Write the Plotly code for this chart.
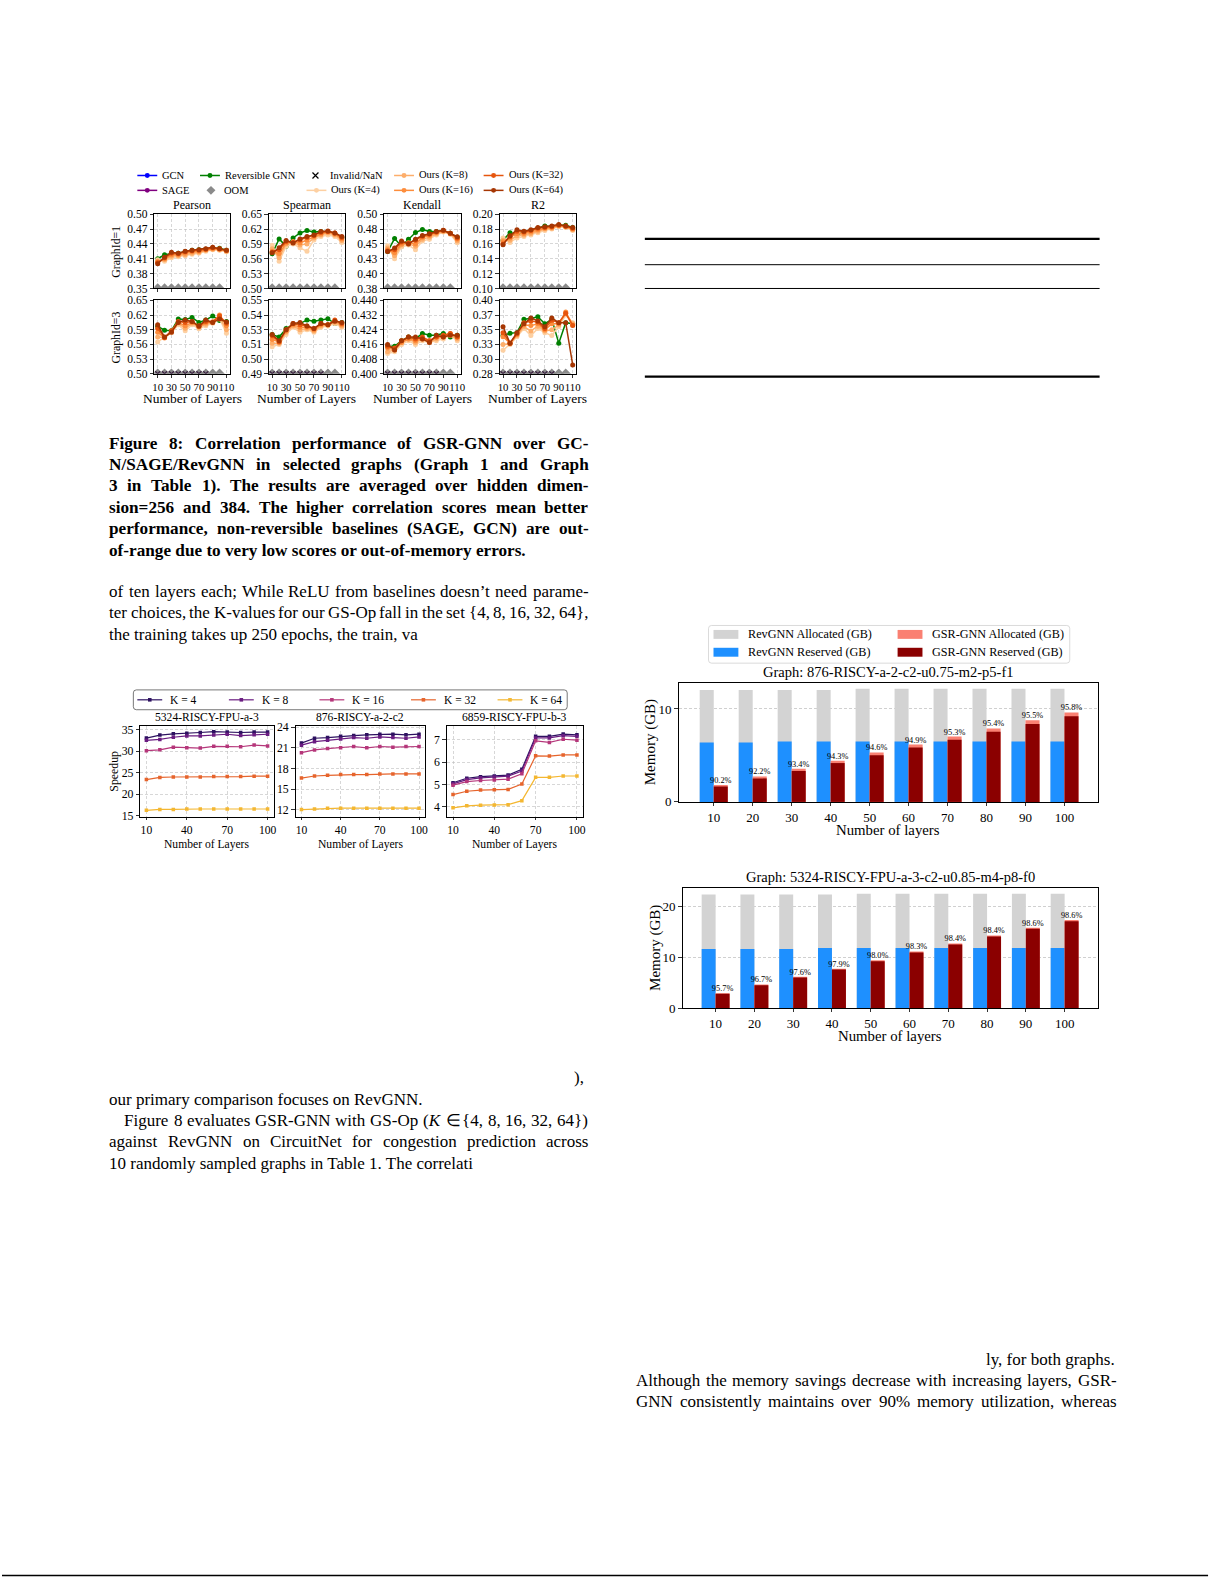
import re
import plotly.graph_objects as go

W, H = 1225, 1585
SERIF = "Liberation Serif"

# ---------------- Figure 8 data (correlation) ----------------
corr_layers = [10, 20, 30, 40, 50, 60, 70, 80, 90, 100, 110]
oom_layers = [10, 20, 30, 40, 50, 60, 70, 80, 90, 100]
nan_layers = [10, 20, 30, 40, 50, 60, 70, 80]
metric_names = ["Pearson", "Spearman", "Kendall", "R2"]
graph_names = ["GraphId=1", "GraphId=3"]

g1_pearson_rev = [0.410, 0.418, 0.420, 0.421, 0.424, 0.427, 0.428, 0.429, 0.431, 0.431, 0.427]
g1_pearson_k4 = [0.408, 0.405, 0.412, 0.414, 0.416, 0.419, 0.421, 0.425, 0.428, 0.427, 0.424]
g1_pearson_k8 = [0.405, 0.408, 0.415, 0.416, 0.418, 0.421, 0.423, 0.427, 0.429, 0.428, 0.425]
g1_pearson_k16 = [0.404, 0.410, 0.418, 0.418, 0.421, 0.424, 0.425, 0.428, 0.430, 0.429, 0.426]
g1_pearson_k32 = [0.402, 0.412, 0.421, 0.420, 0.424, 0.426, 0.427, 0.429, 0.432, 0.430, 0.427]
g1_pearson_k64 = [0.400, 0.413, 0.423, 0.421, 0.425, 0.427, 0.428, 0.430, 0.433, 0.430, 0.427]

g1_spearman_rev = [0.570, 0.600, 0.585, 0.602, 0.612, 0.617, 0.614, 0.615, 0.613, 0.610, 0.603]
g1_spearman_k4 = [0.587, 0.555, 0.585, 0.590, 0.582, 0.575, 0.598, 0.605, 0.608, 0.605, 0.593]
g1_spearman_k8 = [0.580, 0.562, 0.590, 0.592, 0.588, 0.590, 0.602, 0.608, 0.612, 0.608, 0.597]
g1_spearman_k16 = [0.575, 0.570, 0.592, 0.595, 0.592, 0.598, 0.605, 0.610, 0.614, 0.610, 0.600]
g1_spearman_k32 = [0.573, 0.578, 0.595, 0.593, 0.598, 0.603, 0.607, 0.613, 0.615, 0.612, 0.603]
g1_spearman_k64 = [0.572, 0.582, 0.597, 0.592, 0.600, 0.605, 0.608, 0.615, 0.616, 0.612, 0.605]

g1_kendall_rev = [0.437, 0.459, 0.446, 0.458, 0.469, 0.474, 0.471, 0.471, 0.472, 0.468, 0.461]
g1_kendall_k4 = [0.447, 0.425, 0.445, 0.448, 0.440, 0.455, 0.458, 0.465, 0.470, 0.466, 0.452]
g1_kendall_k8 = [0.443, 0.430, 0.448, 0.450, 0.446, 0.458, 0.461, 0.467, 0.471, 0.467, 0.455]
g1_kendall_k16 = [0.440, 0.435, 0.450, 0.452, 0.450, 0.461, 0.464, 0.469, 0.472, 0.468, 0.458]
g1_kendall_k32 = [0.438, 0.440, 0.453, 0.451, 0.456, 0.463, 0.466, 0.470, 0.473, 0.468, 0.460]
g1_kendall_k64 = [0.437, 0.443, 0.455, 0.450, 0.458, 0.464, 0.467, 0.471, 0.473, 0.468, 0.462]

g1_r2_rev = [0.165, 0.175, 0.172, 0.176, 0.178, 0.181, 0.184, 0.183, 0.185, 0.185, 0.182]
g1_r2_k4 = [0.168, 0.162, 0.168, 0.170, 0.172, 0.175, 0.178, 0.180, 0.183, 0.182, 0.178]
g1_r2_k8 = [0.165, 0.165, 0.171, 0.172, 0.174, 0.177, 0.180, 0.181, 0.184, 0.183, 0.179]
g1_r2_k16 = [0.163, 0.168, 0.174, 0.174, 0.176, 0.179, 0.181, 0.182, 0.185, 0.183, 0.180]
g1_r2_k32 = [0.160, 0.170, 0.177, 0.176, 0.178, 0.181, 0.182, 0.183, 0.185, 0.184, 0.181]
g1_r2_k64 = [0.159, 0.171, 0.179, 0.177, 0.179, 0.182, 0.183, 0.184, 0.186, 0.184, 0.182]

g3_pearson_rev = [0.597, 0.589, 0.588, 0.612, 0.611, 0.615, 0.605, 0.610, 0.618, 0.609, 0.607]
g3_pearson_k4 = [0.565, 0.575, 0.584, 0.600, 0.588, 0.600, 0.592, 0.598, 0.603, 0.612, 0.583]
g3_pearson_k8 = [0.575, 0.574, 0.586, 0.603, 0.593, 0.603, 0.595, 0.601, 0.605, 0.615, 0.590]
g3_pearson_k16 = [0.585, 0.573, 0.587, 0.605, 0.598, 0.605, 0.596, 0.604, 0.606, 0.620, 0.598]
g3_pearson_k32 = [0.593, 0.574, 0.588, 0.607, 0.605, 0.607, 0.598, 0.607, 0.606, 0.618, 0.603]
g3_pearson_k64 = [0.600, 0.575, 0.585, 0.605, 0.610, 0.607, 0.597, 0.610, 0.605, 0.612, 0.606]

g3_spearman_rev = [0.522, 0.520, 0.527, 0.530, 0.531, 0.534, 0.533, 0.534, 0.535, 0.531, 0.532]
g3_spearman_k4 = [0.512, 0.514, 0.522, 0.528, 0.524, 0.526, 0.524, 0.528, 0.529, 0.531, 0.528]
g3_spearman_k8 = [0.515, 0.515, 0.524, 0.529, 0.526, 0.527, 0.525, 0.529, 0.530, 0.532, 0.529]
g3_spearman_k16 = [0.518, 0.516, 0.525, 0.530, 0.528, 0.528, 0.526, 0.530, 0.530, 0.533, 0.530]
g3_spearman_k32 = [0.521, 0.516, 0.526, 0.531, 0.530, 0.529, 0.527, 0.531, 0.530, 0.534, 0.531]
g3_spearman_k64 = [0.522, 0.517, 0.526, 0.531, 0.532, 0.529, 0.527, 0.531, 0.530, 0.533, 0.532]

g3_kendall_rev = [0.415, 0.415, 0.418, 0.420, 0.419, 0.422, 0.421, 0.421, 0.422, 0.420, 0.421]
g3_kendall_k4 = [0.411, 0.412, 0.416, 0.418, 0.416, 0.418, 0.417, 0.418, 0.419, 0.421, 0.418]
g3_kendall_k8 = [0.412, 0.413, 0.417, 0.419, 0.417, 0.419, 0.417, 0.419, 0.420, 0.421, 0.419]
g3_kendall_k16 = [0.414, 0.413, 0.417, 0.419, 0.418, 0.419, 0.418, 0.420, 0.420, 0.422, 0.420]
g3_kendall_k32 = [0.415, 0.414, 0.418, 0.420, 0.419, 0.420, 0.418, 0.420, 0.421, 0.422, 0.420]
g3_kendall_k64 = [0.416, 0.413, 0.418, 0.420, 0.420, 0.419, 0.417, 0.421, 0.420, 0.421, 0.421]

g3_r2_rev = [0.340, 0.344, 0.345, 0.368, 0.369, 0.372, 0.360, 0.368, 0.327, 0.362, 0.360]
g3_r2_k4 = [0.315, 0.325, 0.338, 0.352, 0.340, 0.352, 0.345, 0.340, 0.355, 0.375, 0.362]
g3_r2_k8 = [0.325, 0.326, 0.340, 0.355, 0.348, 0.356, 0.348, 0.350, 0.358, 0.378, 0.360]
g3_r2_k16 = [0.338, 0.327, 0.342, 0.358, 0.357, 0.360, 0.350, 0.360, 0.360, 0.380, 0.358]
g3_r2_k32 = [0.345, 0.327, 0.343, 0.362, 0.365, 0.363, 0.352, 0.366, 0.362, 0.378, 0.357]
g3_r2_k64 = [0.355, 0.327, 0.345, 0.360, 0.370, 0.365, 0.355, 0.370, 0.362, 0.362, 0.290]

# y-axis ticks of the correlation panels
g1_pearson_ticks = [0.35, 0.38, 0.41, 0.44, 0.47, 0.50]
g1_pearson_labels = ["0.35", "0.38", "0.41", "0.44", "0.47", "0.50"]
g1_spearman_ticks = [0.50, 0.53, 0.56, 0.59, 0.62, 0.65]
g1_spearman_labels = ["0.50", "0.53", "0.56", "0.59", "0.62", "0.65"]
g1_kendall_ticks = [0.375, 0.40, 0.425, 0.45, 0.475, 0.50]
g1_kendall_labels = ["0.38", "0.40", "0.43", "0.45", "0.48", "0.50"]
g1_r2_ticks = [0.10, 0.12, 0.14, 0.16, 0.18, 0.20]
g1_r2_labels = ["0.10", "0.12", "0.14", "0.16", "0.18", "0.20"]
g3_pearson_ticks = [0.50, 0.53, 0.56, 0.59, 0.62, 0.65]
g3_pearson_labels = ["0.50", "0.53", "0.56", "0.59", "0.62", "0.65"]
g3_spearman_ticks = [0.49, 0.502, 0.514, 0.526, 0.538, 0.55]
g3_spearman_labels = ["0.49", "0.50", "0.51", "0.53", "0.54", "0.55"]
g3_kendall_ticks = [0.400, 0.408, 0.416, 0.424, 0.432, 0.440]
g3_kendall_labels = ["0.400", "0.408", "0.416", "0.424", "0.432", "0.440"]
g3_r2_ticks = [0.275, 0.30, 0.325, 0.35, 0.375, 0.40]
g3_r2_labels = ["0.28", "0.30", "0.33", "0.35", "0.37", "0.40"]
corr_xticks = [10, 30, 50, 70, 90, 110]

# ---------------- Speedup data ----------------
speed_layers = [10, 20, 30, 40, 50, 60, 70, 80, 90, 100]
speed_titles = ["5324-RISCY-FPU-a-3", "876-RISCY-a-2-c2", "6859-RISCY-FPU-b-3"]
k_labels = ["K = 4", "K = 8", "K = 16", "K = 32", "K = 64"]

s5324_k4 = [33.0, 33.7, 34.0, 34.1, 34.3, 34.5, 34.4, 34.3, 34.4, 34.4]
s5324_k8 = [32.5, 32.7, 33.2, 33.5, 33.5, 33.7, 33.9, 33.6, 33.8, 33.9]
s5324_k16 = [30.1, 30.3, 30.9, 30.8, 30.7, 31.1, 31.1, 31.0, 31.4, 31.2]
s5324_k32 = [23.4, 23.9, 24.0, 24.0, 24.0, 24.1, 24.1, 24.1, 24.2, 24.2]
s5324_k64 = [16.3, 16.5, 16.5, 16.6, 16.6, 16.6, 16.6, 16.6, 16.6, 16.6]

s876_k4 = [21.7, 22.4, 22.5, 22.7, 22.8, 22.9, 23.0, 23.0, 22.9, 23.0]
s876_k8 = [21.4, 21.9, 22.1, 22.3, 22.5, 22.4, 22.6, 22.5, 22.4, 22.6]
s876_k16 = [20.3, 20.7, 20.9, 21.0, 21.2, 21.0, 21.2, 21.1, 21.2, 21.2]
s876_k32 = [16.6, 16.9, 17.0, 17.1, 17.1, 17.1, 17.2, 17.2, 17.2, 17.2]
s876_k64 = [12.0, 12.1, 12.2, 12.2, 12.2, 12.2, 12.2, 12.2, 12.2, 12.2]

s6859_k4 = [5.08, 5.28, 5.35, 5.38, 5.42, 5.68, 7.15, 7.15, 7.25, 7.22]
s6859_k8 = [5.03, 5.22, 5.30, 5.33, 5.37, 5.60, 7.08, 7.08, 7.18, 7.15]
s6859_k16 = [4.97, 5.13, 5.18, 5.20, 5.24, 5.48, 6.95, 6.88, 7.02, 6.98]
s6859_k32 = [4.55, 4.70, 4.75, 4.77, 4.78, 5.02, 6.28, 6.27, 6.32, 6.32]
s6859_k64 = [3.96, 4.05, 4.08, 4.09, 4.10, 4.28, 5.32, 5.32, 5.38, 5.38]

s5324_ticks = [15, 20, 25, 30, 35]
s876_ticks = [12, 15, 18, 21, 24]
s6859_ticks = [4, 5, 6, 7]
speed_xticks = [10, 40, 70, 100]

# ---------------- Memory data ----------------
mem_layers = [10, 20, 30, 40, 50, 60, 70, 80, 90, 100]
mem1_title = "Graph: 876-RISCY-a-2-c2-u0.75-m2-p5-f1"
mem1_rev_alloc = [12.05, 12.05, 12.05, 12.05, 12.18, 12.18, 12.18, 12.18, 12.18, 12.18]
mem1_rev_reserved = [6.4, 6.4, 6.5, 6.5, 6.5, 6.5, 6.5, 6.5, 6.5, 6.5]
mem1_gsr_reserved = [1.65, 2.53, 3.33, 4.18, 5.02, 5.86, 6.70, 7.54, 8.39, 9.23]
mem1_gsr_alloc = [1.83, 2.74, 3.57, 4.43, 5.31, 6.17, 7.03, 7.90, 8.78, 9.63]
mem1_pct = ["90.2%", "92.2%", "93.4%", "94.3%", "94.6%", "94.9%", "95.3%", "95.4%", "95.5%", "95.8%"]

mem2_title = "Graph: 5324-RISCY-FPU-a-3-c2-u0.85-m4-p8-f0"
mem2_rev_alloc = [22.35, 22.35, 22.35, 22.35, 22.5, 22.5, 22.5, 22.5, 22.5, 22.5]
mem2_rev_reserved = [11.6, 11.6, 11.6, 11.8, 11.8, 11.8, 11.8, 11.8, 11.8, 11.8]
mem2_gsr_reserved = [2.8, 4.5, 6.0, 7.6, 9.2, 10.95, 12.5, 14.07, 15.6, 17.1]
mem2_gsr_alloc = [2.93, 4.65, 6.15, 7.76, 9.39, 11.14, 12.70, 14.30, 15.82, 17.34]
mem2_pct = ["95.7%", "96.7%", "97.6%", "97.9%", "98.0%", "98.3%", "98.4%", "98.4%", "98.6%", "98.6%"]

# ---------------- Styles ----------------
C_GCN, C_SAGE, C_REV = "#0000ff", "#800080", "#008000"
C_OURS = ["#fdd0a2", "#fdae6b", "#fd8d3c", "#e6550d", "#a63603"]
C_SPEED = ["#2d1160", "#6a1c81", "#b5367a", "#e6642c", "#f4b731"]
C_GRAY, C_BLUE, C_SALMON, C_DRED = "#d3d3d3", "#1e90ff", "#fa8072", "#8b0000"

# Times-compatible advance widths (per 1000 em) used to justify the page text
TR = dict(zip(" !%(),-./:;=?{}’", [250, 333, 833, 333, 333, 250, 333, 250, 278, 278, 278, 564, 444, 480, 480, 333]))
TR.update(dict(zip("0123456789", [500] * 10)))
TR.update(dict(zip("ABCDEFGHIJKLMNOPQRSTUVWXYZ",
                   [722, 667, 667, 722, 611, 556, 722, 722, 333, 389, 722, 611, 889, 722, 722, 556, 722, 667, 556, 611, 722, 722, 944, 722, 722, 611])))
TR.update(dict(zip("abcdefghijklmnopqrstuvwxyz",
                   [444, 500, 444, 500, 444, 333, 500, 500, 278, 278, 500, 278, 778, 500, 500, 500, 500, 333, 389, 278, 500, 500, 722, 500, 500, 444])))
TR["∈"] = 660
TB = dict(zip(" !%(),-./:;=?{}’", [250, 333, 1000, 333, 333, 250, 333, 250, 278, 333, 333, 570, 500, 394, 394, 333]))
TB.update(dict(zip("0123456789", [500] * 10)))
TB.update(dict(zip("ABCDEFGHIJKLMNOPQRSTUVWXYZ",
                   [722, 667, 722, 722, 667, 611, 778, 778, 389, 500, 778, 667, 944, 722, 778, 611, 778, 722, 556, 667, 722, 722, 1000, 722, 722, 667])))
TB.update(dict(zip("abcdefghijklmnopqrstuvwxyz",
                   [500, 556, 444, 556, 444, 333, 500, 556, 278, 333, 556, 278, 833, 556, 500, 556, 556, 444, 389, 333, 556, 500, 722, 500, 500, 444])))


def px(x):
    return x / W


def py(y):
    return 1 - y / H


def names(i):
    return ("x" if i == 1 else f"x{i}", "y" if i == 1 else f"y{i}",
            "xaxis" if i == 1 else f"xaxis{i}", "yaxis" if i == 1 else f"yaxis{i}")


fig = go.Figure()
layout = {}
shapes = []
annots = []


def text(x, y, s, size, xanchor="center", angle=0, bold=False, yanchor="middle"):
    annots.append(dict(x=px(x), y=py(y), xref="paper", yref="paper", text=s, showarrow=False,
                       xanchor=xanchor, yanchor=yanchor, textangle=angle, borderpad=0,
                       font=dict(family=SERIF, size=size, color="black",
                                 weight="bold" if bold else "normal")))


def text_width(s, size, bold):
    tbl = TB if bold else TR
    plain = re.sub(r"<[^>]+>", "", s)
    return sum(tbl.get(ch, 500) for ch in plain) * size / 1000.0


def para_line(x0, x1, y, s, size, bold=False, justify=True):
    words = s.split(" ")
    if not justify or len(words) < 2:
        text(x0, y, s, size, "left", bold=bold)
        return
    widths = [text_width(w, size, bold) for w in words]
    gap = (x1 - x0 - sum(widths)) / (len(words) - 1)
    x = x0
    for w, wd in zip(words, widths):
        text(x, y, w, size, "left", bold=bold)
        x += wd + gap


def seg(x0, x1, y, color, width):
    shapes.append(dict(type="line", xref="paper", yref="paper", x0=px(x0), x1=px(x1),
                       y0=py(y), y1=py(y), line=dict(color=color, width=width)))


def dot(cx, cy, r, color):
    shapes.append(dict(type="circle", xref="paper", yref="paper", x0=px(cx - r), x1=px(cx + r),
                       y0=py(cy + r), y1=py(cy - r), fillcolor=color, line=dict(width=0)))


def square(cx, cy, r, color):
    shapes.append(dict(type="rect", xref="paper", yref="paper", x0=px(cx - r), x1=px(cx + r),
                       y0=py(cy + r), y1=py(cy - r), fillcolor=color, line=dict(width=0)))


def diamond(cx, cy, r, color):
    p = (f"M{px(cx)},{py(cy - r)} L{px(cx + r)},{py(cy)} L{px(cx)},{py(cy + r)} "
         f"L{px(cx - r)},{py(cy)} Z")
    shapes.append(dict(type="path", xref="paper", yref="paper", path=p, fillcolor=color,
                       line=dict(width=0)))


def cross(cx, cy, r, color):
    p = (f"M{px(cx - r)},{py(cy - r)} L{px(cx + r)},{py(cy + r)} "
         f"M{px(cx - r)},{py(cy + r)} L{px(cx + r)},{py(cy - r)}")
    shapes.append(dict(type="path", xref="paper", yref="paper", path=p, line=dict(color=color, width=1.2)))


def rrect(x0, y0, x1, y1, r, color, width):
    P = lambda x, y: f"{px(x)},{py(y)}"
    p = (f"M{P(x0 + r, y0)} L{P(x1 - r, y0)} Q{P(x1, y0)} {P(x1, y0 + r)} L{P(x1, y1 - r)} "
         f"Q{P(x1, y1)} {P(x1 - r, y1)} L{P(x0 + r, y1)} Q{P(x0, y1)} {P(x0, y1 - r)} "
         f"L{P(x0, y0 + r)} Q{P(x0, y0)} {P(x0 + r, y0)} Z")
    shapes.append(dict(type="path", xref="paper", yref="paper", path=p, fillcolor="white",
                       line=dict(color=color, width=width), layer="below"))


def frame(size, ticklen=3.5):
    return dict(showline=True, linecolor="black", linewidth=1, mirror=True, ticks="outside",
                ticklen=ticklen, tickwidth=0.8, tickcolor="black", zeroline=False, tickangle=0,
                tickfont=dict(family=SERIF, size=size, color="black"))


GRID = dict(showgrid=True, gridcolor="#bdbdbd", gridwidth=0.6, griddash="3px,2px")

# ---------------- Figure 8 panels ----------------
corr_cols = [(153, 229), (268, 345), (384, 461), (500, 577)]
corr_rows = [(210, 285), (297, 371)]
panels = [
    [(g1_pearson_rev, [g1_pearson_k4, g1_pearson_k8, g1_pearson_k16, g1_pearson_k32, g1_pearson_k64], g1_pearson_ticks, g1_pearson_labels),
     (g1_spearman_rev, [g1_spearman_k4, g1_spearman_k8, g1_spearman_k16, g1_spearman_k32, g1_spearman_k64], g1_spearman_ticks, g1_spearman_labels),
     (g1_kendall_rev, [g1_kendall_k4, g1_kendall_k8, g1_kendall_k16, g1_kendall_k32, g1_kendall_k64], g1_kendall_ticks, g1_kendall_labels),
     (g1_r2_rev, [g1_r2_k4, g1_r2_k8, g1_r2_k16, g1_r2_k32, g1_r2_k64], g1_r2_ticks, g1_r2_labels)],
    [(g3_pearson_rev, [g3_pearson_k4, g3_pearson_k8, g3_pearson_k16, g3_pearson_k32, g3_pearson_k64], g3_pearson_ticks, g3_pearson_labels),
     (g3_spearman_rev, [g3_spearman_k4, g3_spearman_k8, g3_spearman_k16, g3_spearman_k32, g3_spearman_k64], g3_spearman_ticks, g3_spearman_labels),
     (g3_kendall_rev, [g3_kendall_k4, g3_kendall_k8, g3_kendall_k16, g3_kendall_k32, g3_kendall_k64], g3_kendall_ticks, g3_kendall_labels),
     (g3_r2_rev, [g3_r2_k4, g3_r2_k8, g3_r2_k16, g3_r2_k32, g3_r2_k64], g3_r2_ticks, g3_r2_labels)],
]

idx = 0
for r, (top, bot) in enumerate(corr_rows):
    for c, (left, right) in enumerate(corr_cols):
        idx += 1
        xa, ya, xk, yk = names(idx)
        rev, ours, ticks, labels = panels[r][c]
        ymin = ticks[0]
        layout[xk] = dict(domain=[px(left), px(right)], anchor=ya, range=[5, 115],
                          tickvals=corr_xticks, showticklabels=(r == 1), **frame(10.8, 3), **GRID)
        layout[yk] = dict(domain=[py(bot), py(top)], anchor=xa, range=[ticks[0], ticks[-1]],
                          tickvals=ticks, ticktext=labels, **frame(11.5), **GRID)
        fig.add_trace(go.Scatter(x=oom_layers, y=[ymin] * len(oom_layers), xaxis=xa, yaxis=ya,
                                 mode="markers", marker=dict(symbol="diamond", size=8, color="#8a8a8a"),
                                 showlegend=False, hoverinfo="skip"))
        if r == 1:
            fig.add_trace(go.Scatter(x=nan_layers, y=[ymin] * len(nan_layers), xaxis=xa, yaxis=ya,
                                     mode="markers", marker=dict(symbol="x-thin", size=5,
                                                                 line=dict(color="#3a2040", width=1.2)),
                                     showlegend=False, hoverinfo="skip"))
        fig.add_trace(go.Scatter(x=corr_layers, y=rev, xaxis=xa, yaxis=ya, mode="lines+markers",
                                 line=dict(color=C_REV, width=1.5), marker=dict(size=5, color=C_REV),
                                 showlegend=False))
        for k, ys in enumerate(ours):
            fig.add_trace(go.Scatter(x=corr_layers, y=ys, xaxis=xa, yaxis=ya, mode="lines+markers",
                                     line=dict(color=C_OURS[k], width=1.5),
                                     marker=dict(size=5, color=C_OURS[k]), showlegend=False))
        if r == 0:
            text((left + right) / 2, 201, metric_names[c], 12)
        else:
            text((left + right) / 2, 396, "Number of Layers", 13.5)
    text(115, (top + bot) / 2, graph_names[r], 11.8, angle=-90)


def leg_line(x0, y, color, label):
    seg(x0, x0 + 20, y, color, 1.5)
    dot(x0 + 10, y, 2.5, color)
    text(x0 + 24, y, label, 10.5, xanchor="left")


leg_line(136, 171, C_GCN, "GCN")
leg_line(199, 171, C_REV, "Reversible GNN")
cross(315, 171, 3, "black")
text(329, 171, "Invalid/NaN", 10.5, xanchor="left")
leg_line(394, 171, C_OURS[1], "Ours (K=8)")
leg_line(484, 171, C_OURS[3], "Ours (K=32)")
leg_line(136, 186, C_SAGE, "SAGE")
diamond(210, 186, 4.5, "#8a8a8a")
text(222, 186, "OOM", 10.5, xanchor="left")
leg_line(306, 186, C_OURS[0], "Ours (K=4)")
leg_line(394, 186, C_OURS[2], "Ours (K=16)")
leg_line(484, 186, C_OURS[4], "Ours (K=64)")

# ---------------- Speedup panels ----------------
speed_cols = [(139, 273), (295, 425), (447, 584)]
speed_rows = (726, 818)
speed_sets = [
    ([s5324_k4, s5324_k8, s5324_k16, s5324_k32, s5324_k64], s5324_ticks, [14.8, 35.9]),
    ([s876_k4, s876_k8, s876_k16, s876_k32, s876_k64], s876_ticks, [10.95, 24.25]),
    ([s6859_k4, s6859_k8, s6859_k16, s6859_k32, s6859_k64], s6859_ticks, [3.56, 7.63]),
]
for c, (left, right) in enumerate(speed_cols):
    idx += 1
    xa, ya, xk, yk = names(idx)
    series, ticks, yr = speed_sets[c]
    layout[xk] = dict(domain=[px(left), px(right)], anchor=ya, range=[5.5, 104.5],
                      tickvals=speed_xticks, **frame(11.6, 2.5), **GRID)
    layout[yk] = dict(domain=[py(speed_rows[1]), py(speed_rows[0])], anchor=xa, range=yr,
                      tickvals=ticks, **frame(11.8), **GRID)
    for k, ys in enumerate(series):
        fig.add_trace(go.Scatter(x=speed_layers, y=ys, xaxis=xa, yaxis=ya, mode="lines+markers",
                                 line=dict(color=C_SPEED[k], width=1.2),
                                 marker=dict(symbol="square", size=3.5, color=C_SPEED[k]),
                                 showlegend=False))
    text((left + right) / 2, 718, speed_titles[c], 11.6)
    text((left + right) / 2, 846, "Number of Layers", 11.6)
text(113, 772, "Speedup", 11.8, angle=-90)

rrect(132, 690, 568, 710, 3, "#555555", 0.8)
for k, x0 in enumerate([136, 228, 319, 411, 498]):
    seg(x0, x0 + 25, 700, C_SPEED[k], 1.2)
    square(x0 + 12.5, 700, 1.8, C_SPEED[k])
    text(x0 + 32, 700, k_labels[k], 11.5, xanchor="left")

# ---------------- Memory charts ----------------
mem_sets = [
    (mem1_rev_alloc, mem1_rev_reserved, mem1_gsr_alloc, mem1_gsr_reserved, mem1_pct, mem1_title,
     (680, 1101), (683, 803), [0, 12.8], [0, 10], [1.0, 108.5]),
    (mem2_rev_alloc, mem2_rev_reserved, mem2_gsr_alloc, mem2_gsr_reserved, mem2_pct, mem2_title,
     (684, 1101), (890, 1011), [0, 23.6], [0, 10, 20], [1.5, 108.5]),
]
BW = 3.6
for ra, rr, ga, gr, pct, title, (left, right), (top, bot), yr, yt, xr in mem_sets:
    idx += 1
    xa, ya, xk, yk = names(idx)
    layout[xk] = dict(domain=[px(left), px(right)], anchor=ya, range=xr, tickvals=mem_layers,
                      showgrid=False, **frame(13, 3))
    layout[yk] = dict(domain=[py(bot), py(top)], anchor=xa, range=yr, tickvals=yt,
                      showgrid=True, gridcolor="#b0b0b0", gridwidth=0.6, griddash="3px,2px", **frame(13))
    for ys, col, off in [(ra, C_GRAY, -BW), (rr, C_BLUE, -BW), (ga, C_SALMON, 0), (gr, C_DRED, 0)]:
        fig.add_trace(go.Bar(x=mem_layers, y=ys, xaxis=xa, yaxis=ya, width=BW, offset=off,
                             marker=dict(color=col, line=dict(width=0)), showlegend=False))
    fig.add_trace(go.Scatter(x=[v + BW / 2 for v in mem_layers], y=ga, xaxis=xa, yaxis=ya,
                             mode="text", text=pct, textposition="top center",
                             textfont=dict(family=SERIF, size=8.3, color="black"),
                             showlegend=False, cliponaxis=False))
    cx = (left + right) / 2
    text(cx, top - 11, title, 14.5)
    text(cx, bot + 28, "Number of layers", 14.8)
    text(left - 28, (top + bot) / 2, "Memory (GB)", 15, angle=-90)

rrect(710, 625, 1073, 663, 3, "#d0d0d0", 0.8)
for (x0, y, col, lab) in [(715, 634, C_GRAY, "RevGNN Allocated (GB)"),
                          (715, 652, C_BLUE, "RevGNN Reserved (GB)"),
                          (900, 634, C_SALMON, "GSR-GNN Allocated (GB)"),
                          (900, 652, C_DRED, "GSR-GNN Reserved (GB)")]:
    shapes.append(dict(type="rect", xref="paper", yref="paper", x0=px(x0), x1=px(x0 + 25),
                       y0=py(y + 4.5), y1=py(y - 4.5), fillcolor=col, line=dict(width=0)))
    text(x0 + 34, y, lab, 12.2, xanchor="left")

# ---------------- Table rules and page rule ----------------
seg(646, 1103, 235, "black", 2.2)
seg(646, 1103, 261, "black", 1)
seg(646, 1103, 285, "black", 1)
seg(646, 1103, 374, "black", 2.2)
seg(0, 1212, 1583.5, "black", 1.3)

# ---------------- Page text ----------------
LX0, LX1 = 107, 588
RX0, RX1 = 636, 1119
caption = [
    "Figure 8: Correlation performance of GSR-GNN over GC-",
    "N/SAGE/RevGNN in selected graphs (Graph 1 and Graph",
    "3 in Table 1). The results are averaged over hidden dimen-",
    "sion=256 and 384. The higher correlation scores mean better",
    "performance, non-reversible baselines (SAGE, GCN) are out-",
    "of-range due to very low scores or out-of-memory errors.",
]
for i, line in enumerate(caption):
    para_line(LX0, LX1, 441 + i * 21.6, line, 17.2, bold=True, justify=(i < len(caption) - 1))

body = [
    "of ten layers each; While ReLU from baselines doesn’t need parame-",
    "ter choices, the K-values for our GS-Op fall in the set {4, 8, 16, 32, 64},",
    "the training takes up 250 epochs, the train, va",
]
for i, line in enumerate(body):
    para_line(LX0, LX1, 591 + i * 21.3, line, 17, justify=(i < 2))

text(586, 1081, "),", 17, xanchor="right")
para_line(LX0, LX1, 1103, "our primary comparison focuses on RevGNN.", 17, justify=False)
para_line(122, LX1, 1124.5, "Figure 8 evaluates GSR-GNN with GS-Op (<i>K</i> ∈ {4, 8, 16, 32, 64})", 17)
para_line(LX0, LX1, 1146, "against RevGNN on CircuitNet for congestion prediction across", 17)
para_line(LX0, LX1, 1167.5, "10 randomly sampled graphs in Table 1. The correlati", 17, justify=False)

text(RX1, 1366, "ly, for both graphs.", 17, xanchor="right")
para_line(RX0, RX1, 1387, "Although the memory savings decrease with increasing layers, GSR-", 17)
para_line(RX0, RX1, 1408, "GNN consistently maintains over 90% memory utilization, whereas", 17)

fig.update_layout(
    width=W, height=H, margin=dict(l=0, r=0, t=0, b=0, pad=0),
    paper_bgcolor="white", plot_bgcolor="rgba(0,0,0,0)",
    barmode="overlay", showlegend=False,
    shapes=shapes, annotations=annots,
    font=dict(family=SERIF, color="black"),
    **layout,
)
fig.write_html("out.html", config={"displayModeBar": False, "staticPlot": True},
               post_script="document.body.style.margin='0px';document.body.style.padding='0px';"
                           "document.documentElement.style.overflow='hidden';")
